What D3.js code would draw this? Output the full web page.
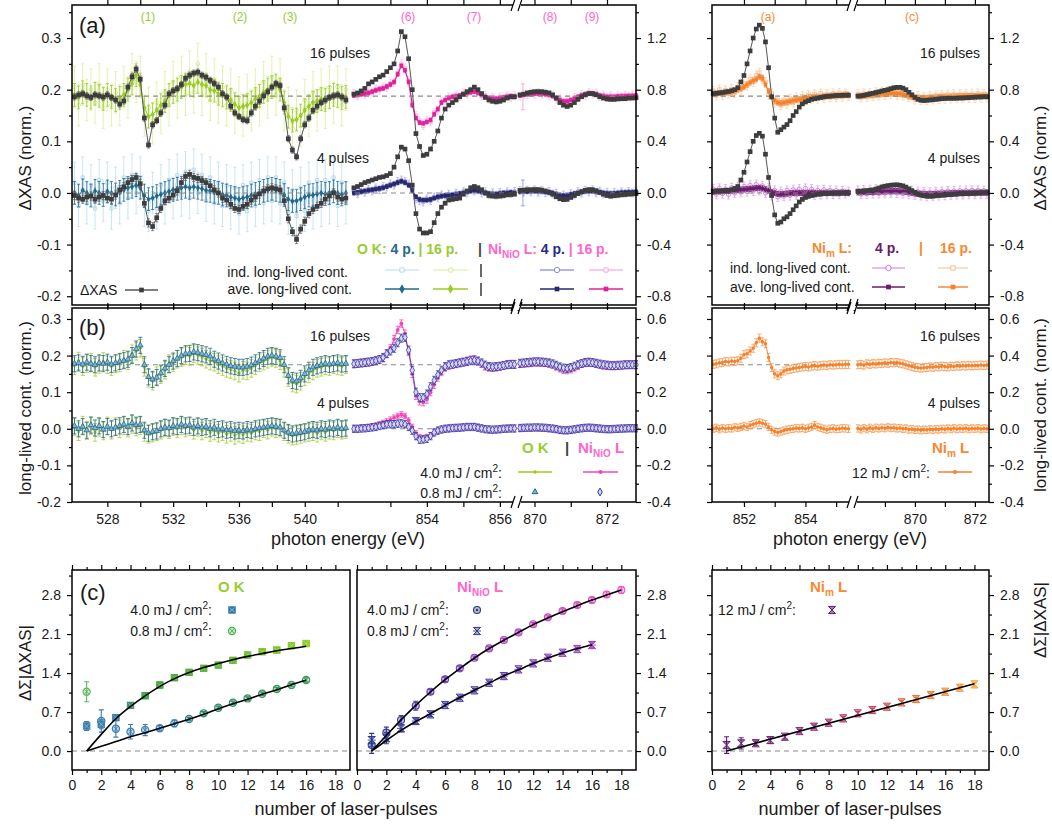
<!DOCTYPE html>
<html><head><meta charset="utf-8">
<script src="https://cdn.jsdelivr.net/npm/d3@7"></script>
<style>body{margin:0;background:#fff}</style>
</head><body>
<svg id="c" width="1052" height="824"></svg>
<script>
// ======================= DATA =======================
// --- O K edge (panels a, b), photon energy (eV)
const E_OK = [526,526.25,526.5,526.75,527,527.25,527.5,527.75,528,528.25,528.5,528.75,529,529.25,529.5,529.75,530,530.25,530.5,530.75,531,531.25,531.5,531.75,532,532.25,532.5,532.75,533,533.25,533.5,533.75,534,534.25,534.5,534.75,535,535.25,535.5,535.75,536,536.25,536.5,536.75,537,537.25,537.5,537.75,538,538.25,538.5,538.75,539,539.25,539.5,539.75,540,540.25,540.5,540.75,541,541.25,541.5,541.75,542,542.25,542.5];
const okXas16 = [0.186,0.19,0.192,0.188,0.185,0.19,0.188,0.186,0.19,0.185,0.18,0.172,0.178,0.205,0.225,0.24,0.22,0.145,0.093,0.132,0.14,0.155,0.17,0.192,0.198,0.202,0.21,0.222,0.228,0.232,0.234,0.228,0.224,0.218,0.212,0.205,0.192,0.186,0.168,0.155,0.148,0.142,0.14,0.155,0.168,0.178,0.188,0.196,0.205,0.212,0.208,0.165,0.105,0.083,0.07,0.105,0.132,0.145,0.16,0.168,0.175,0.18,0.185,0.188,0.19,0.186,0.18];
const okXas4 = [-0.005,-0.01,-0.012,-0.008,-0.006,-0.012,-0.008,-0.005,-0.01,-0.012,-0.004,0.006,0.012,0.02,0.026,0.03,0.018,-0.02,-0.058,-0.065,-0.048,-0.03,-0.015,-0.01,-0.004,0.004,0.02,0.032,0.036,0.03,0.028,0.024,0.02,0.014,0.006,0.0,-0.01,-0.014,-0.022,-0.03,-0.032,-0.026,-0.022,-0.014,-0.008,-0.002,0.004,0.008,0.01,0.008,0.006,-0.015,-0.05,-0.075,-0.09,-0.07,-0.055,-0.04,-0.032,-0.026,-0.02,-0.012,-0.006,0.0,-0.008,-0.012,-0.01];
const okAve16 = [0.19,0.185,0.195,0.19,0.185,0.192,0.188,0.182,0.19,0.186,0.18,0.184,0.19,0.2,0.212,0.228,0.21,0.165,0.148,0.152,0.16,0.17,0.178,0.19,0.195,0.2,0.205,0.21,0.212,0.208,0.215,0.21,0.208,0.2,0.198,0.192,0.19,0.185,0.18,0.172,0.165,0.168,0.17,0.175,0.182,0.188,0.195,0.2,0.205,0.208,0.2,0.175,0.148,0.14,0.142,0.15,0.16,0.168,0.175,0.178,0.182,0.18,0.185,0.19,0.188,0.184,0.186];
const okInd16 = [0.205,0.17,0.21,0.18,0.2,0.175,0.21,0.165,0.2,0.17,0.195,0.17,0.205,0.185,0.23,0.215,0.225,0.15,0.165,0.135,0.175,0.155,0.195,0.17,0.215,0.185,0.225,0.19,0.235,0.195,0.25,0.19,0.23,0.18,0.22,0.175,0.205,0.17,0.2,0.155,0.185,0.15,0.19,0.16,0.2,0.17,0.215,0.185,0.225,0.19,0.22,0.16,0.165,0.125,0.16,0.13,0.18,0.15,0.195,0.16,0.2,0.165,0.205,0.175,0.205,0.17,0.2];
const okAve4 = [0.0,-0.005,0.005,0.0,-0.005,0.004,0.0,-0.004,0.003,0.0,-0.003,0.002,0.006,0.01,0.012,0.015,0.01,-0.005,-0.012,-0.01,-0.006,-0.003,0.0,0.003,0.006,0.008,0.01,0.012,0.01,0.012,0.01,0.008,0.005,0.004,0.002,0.0,-0.003,-0.005,-0.008,-0.01,-0.012,-0.01,-0.008,-0.005,-0.002,0.0,0.004,0.006,0.008,0.006,0.004,-0.004,-0.012,-0.016,-0.015,-0.012,-0.008,-0.005,-0.004,-0.002,0.0,-0.002,0.0,0.003,0.0,-0.003,0.0];
const okInd4 = [0.02,-0.025,0.03,-0.02,0.015,-0.03,0.025,-0.015,0.02,-0.03,0.01,-0.02,0.03,-0.01,0.035,0.0,0.03,-0.025,-0.035,0.0,-0.03,0.015,-0.02,0.025,-0.01,0.035,-0.005,0.04,-0.01,0.045,0.0,0.035,-0.015,0.03,-0.02,0.02,-0.025,0.015,-0.03,0.01,-0.04,0.015,-0.035,0.02,-0.025,0.025,-0.02,0.03,-0.015,0.03,-0.02,0.02,-0.04,0.005,-0.045,0.01,-0.035,0.02,-0.03,0.025,-0.025,0.025,-0.02,0.03,-0.025,0.02,-0.02];
// panel b, O K long-lived contribution
const okLL16hi = [0.172,0.185,0.17,0.178,0.182,0.168,0.176,0.184,0.175,0.17,0.178,0.18,0.19,0.186,0.205,0.212,0.22,0.168,0.138,0.13,0.145,0.148,0.16,0.178,0.18,0.19,0.195,0.2,0.198,0.205,0.2,0.196,0.19,0.185,0.182,0.175,0.17,0.165,0.162,0.158,0.152,0.16,0.158,0.165,0.172,0.18,0.185,0.19,0.195,0.192,0.186,0.165,0.14,0.125,0.122,0.13,0.142,0.15,0.158,0.165,0.168,0.172,0.17,0.175,0.172,0.17,0.175];
const okLL16lo = [0.178,0.18,0.176,0.182,0.178,0.175,0.18,0.178,0.182,0.176,0.18,0.184,0.186,0.19,0.2,0.218,0.228,0.175,0.142,0.135,0.14,0.152,0.165,0.175,0.185,0.192,0.2,0.205,0.206,0.21,0.208,0.205,0.202,0.198,0.19,0.185,0.18,0.176,0.172,0.17,0.168,0.168,0.17,0.174,0.18,0.186,0.192,0.198,0.2,0.198,0.194,0.175,0.145,0.132,0.13,0.138,0.15,0.16,0.168,0.172,0.175,0.178,0.176,0.178,0.18,0.177,0.178];
const okLL4hi = [0.005,-0.008,0.01,-0.005,0.008,-0.01,0.004,-0.006,0.008,-0.004,0.006,0.0,0.008,0.002,0.012,0.005,0.008,-0.01,-0.015,-0.012,-0.008,-0.004,0.002,-0.002,0.006,0.0,0.008,0.002,0.006,-0.004,0.004,-0.006,0.0,-0.01,-0.006,-0.012,-0.008,-0.015,-0.01,-0.018,-0.012,-0.016,-0.01,-0.012,-0.006,-0.008,0.0,-0.004,0.004,0.0,0.002,-0.008,-0.015,-0.02,-0.018,-0.015,-0.012,-0.01,-0.008,-0.012,-0.006,-0.01,-0.004,-0.006,0.0,-0.004,-0.002];
const okLL4lo = [0.008,0.0,0.006,-0.004,0.01,0.002,0.008,-0.002,0.006,0.0,0.004,0.008,0.012,0.006,0.016,0.01,0.012,-0.004,-0.012,-0.008,-0.006,0.0,0.004,0.002,0.008,0.006,0.012,0.008,0.01,0.004,0.008,0.004,0.006,0.0,0.004,-0.002,0.0,-0.004,-0.002,-0.006,-0.004,-0.006,-0.002,-0.004,0.0,0.002,0.004,0.006,0.008,0.006,0.004,-0.004,-0.01,-0.014,-0.012,-0.01,-0.008,-0.004,-0.002,-0.004,0.0,-0.002,0.002,0.0,0.004,0.0,0.002];

// --- Ni(NiO) L3 / L2
const E_N3 = [852.0,852.1,852.2,852.3,852.4,852.5,852.6,852.7,852.8,852.9,853.0,853.1,853.2,853.3,853.4,853.5,853.6,853.7,853.8,853.9,854.0,854.1,854.2,854.3,854.4,854.5,854.6,854.7,854.8,854.9,855.0,855.1,855.2,855.3,855.4,855.5,855.6,855.7,855.8,855.9,856.0,856.1,856.2,856.3,856.4];
const niXas16 = [0.765,0.775,0.79,0.81,0.845,0.86,0.88,0.9,0.913,0.94,0.97,1.0,1.1,1.25,1.21,1.04,0.8,0.46,0.36,0.29,0.3,0.34,0.4,0.48,0.58,0.65,0.68,0.7,0.72,0.745,0.765,0.785,0.8,0.82,0.8,0.77,0.74,0.72,0.71,0.705,0.71,0.72,0.735,0.745,0.745];
const niXas4 = [0.04,0.05,0.065,0.08,0.09,0.1,0.11,0.12,0.125,0.135,0.15,0.2,0.28,0.355,0.34,0.25,0.06,-0.16,-0.28,-0.31,-0.31,-0.3,-0.23,-0.16,-0.11,-0.08,-0.055,-0.05,-0.045,-0.04,-0.01,0.015,0.04,0.05,0.04,0.025,0.0,-0.02,-0.025,-0.026,-0.025,-0.02,-0.015,-0.012,-0.01];
const niAve16 = [0.755,0.76,0.765,0.77,0.775,0.785,0.795,0.805,0.81,0.825,0.84,0.86,0.92,0.985,0.95,0.86,0.68,0.58,0.545,0.54,0.55,0.565,0.61,0.65,0.7,0.72,0.735,0.745,0.75,0.755,0.765,0.775,0.78,0.785,0.775,0.76,0.745,0.735,0.73,0.73,0.735,0.74,0.745,0.75,0.745];
const niInd16 = [0.77,0.75,0.775,0.76,0.785,0.775,0.805,0.795,0.82,0.815,0.85,0.855,0.93,1.0,0.97,0.87,0.7,0.6,0.56,0.52,0.565,0.55,0.625,0.64,0.71,0.715,0.745,0.735,0.76,0.745,0.775,0.765,0.79,0.78,0.785,0.75,0.755,0.725,0.74,0.72,0.745,0.735,0.755,0.74,0.755];
const niAve4 = [0.0,0.005,0.01,0.015,0.02,0.025,0.03,0.035,0.04,0.05,0.06,0.07,0.08,0.09,0.08,0.06,0.02,-0.03,-0.05,-0.055,-0.055,-0.05,-0.04,-0.03,-0.025,-0.02,-0.018,-0.015,-0.01,-0.005,0.0,0.01,0.015,0.02,0.015,0.01,0.0,-0.005,-0.008,-0.008,-0.005,0.0,0.0,0.005,0.0];
const niInd4 = [0.012,-0.008,0.02,0.005,0.03,0.015,0.04,0.025,0.05,0.045,0.07,0.06,0.09,0.1,0.09,0.07,0.03,-0.045,-0.06,-0.07,-0.045,-0.06,-0.03,-0.04,-0.015,-0.03,-0.008,-0.025,0.0,-0.015,0.01,0.0,0.025,0.015,0.025,0.0,0.01,-0.015,0.002,-0.018,0.005,-0.01,0.01,-0.005,0.012];
const E_N2 = [869.6,869.7,869.8,869.9,870.0,870.1,870.2,870.3,870.4,870.5,870.6,870.7,870.8,870.9,871.0,871.1,871.2,871.3,871.4,871.5,871.6,871.7,871.8,871.9,872.0,872.1,872.2,872.3,872.4,872.5,872.6,872.7,872.8];
const niXas16L2 = [0.76,0.765,0.775,0.78,0.785,0.785,0.785,0.78,0.775,0.76,0.735,0.7,0.68,0.67,0.68,0.7,0.725,0.745,0.76,0.77,0.77,0.76,0.745,0.735,0.728,0.725,0.725,0.728,0.73,0.73,0.735,0.735,0.738];
const niXas4L2 = [0.02,0.022,0.025,0.025,0.026,0.026,0.022,0.015,0.005,-0.01,-0.03,-0.045,-0.052,-0.05,-0.035,-0.02,-0.005,0.01,0.02,0.026,0.025,0.018,0.005,-0.01,-0.02,-0.025,-0.022,-0.018,-0.015,-0.012,-0.01,-0.008,-0.005];
const niAve16L2 = [0.755,0.76,0.765,0.765,0.77,0.77,0.77,0.765,0.76,0.75,0.735,0.72,0.71,0.71,0.72,0.73,0.745,0.755,0.765,0.77,0.77,0.765,0.755,0.75,0.745,0.745,0.745,0.748,0.75,0.75,0.752,0.752,0.755];
const niInd16L2 = [0.75,0.765,0.76,0.775,0.765,0.78,0.765,0.775,0.755,0.76,0.725,0.73,0.7,0.72,0.71,0.74,0.735,0.765,0.755,0.78,0.765,0.775,0.745,0.76,0.74,0.755,0.738,0.755,0.745,0.758,0.748,0.76,0.75];
const niAve4L2 = [0.01,0.012,0.012,0.014,0.015,0.014,0.012,0.01,0.005,0.0,-0.01,-0.018,-0.022,-0.02,-0.012,-0.005,0.0,0.008,0.012,0.015,0.014,0.01,0.004,0.0,-0.004,-0.005,-0.004,0.0,0.002,0.004,0.005,0.006,0.008];
const niInd4L2 = [0.02,0.005,0.022,0.008,0.025,0.005,0.02,0.002,0.012,-0.008,-0.002,-0.025,-0.015,-0.03,-0.005,-0.015,0.01,0.0,0.022,0.008,0.025,0.0,0.015,-0.008,0.005,-0.012,0.004,-0.008,0.01,-0.002,0.012,0.0,0.015];
const niEdgeE = [869.68], niEdge16 = [0.745], niEdge4 = [0.0];
// panel b, NiO long-lived
const niLL16hi = [0.355,0.356,0.358,0.36,0.362,0.366,0.372,0.378,0.385,0.41,0.44,0.49,0.54,0.575,0.52,0.42,0.3,0.18,0.15,0.145,0.16,0.2,0.24,0.28,0.31,0.335,0.345,0.35,0.355,0.36,0.365,0.372,0.378,0.38,0.37,0.355,0.34,0.335,0.333,0.335,0.34,0.345,0.35,0.352,0.352];
const niLL16lo = [0.355,0.357,0.36,0.362,0.365,0.368,0.372,0.378,0.39,0.41,0.425,0.44,0.47,0.495,0.5,0.43,0.32,0.2,0.17,0.17,0.19,0.23,0.265,0.295,0.32,0.34,0.35,0.353,0.356,0.36,0.364,0.368,0.372,0.375,0.37,0.36,0.348,0.34,0.338,0.34,0.342,0.346,0.35,0.352,0.352];
const niLL4hi = [0.0,0.002,0.004,0.006,0.008,0.012,0.018,0.025,0.032,0.04,0.05,0.06,0.07,0.078,0.07,0.045,0.01,-0.025,-0.045,-0.05,-0.045,-0.035,-0.02,-0.01,-0.004,0.0,0.002,0.004,0.005,0.006,0.008,0.01,0.012,0.012,0.008,0.003,-0.002,-0.005,-0.006,-0.005,-0.003,0.0,0.002,0.003,0.003];
const niLL4lo = [0.0,0.0,0.002,0.003,0.005,0.008,0.01,0.015,0.02,0.025,0.025,0.025,0.028,0.03,0.025,0.01,-0.01,-0.04,-0.06,-0.058,-0.055,-0.04,-0.02,-0.01,-0.004,0.0,0.002,0.004,0.005,0.006,0.008,0.01,0.01,0.01,0.006,0.002,-0.002,-0.004,-0.005,-0.004,-0.002,0.0,0.001,0.002,0.002];
const niLL16hiL2 = [0.355,0.356,0.358,0.36,0.362,0.362,0.362,0.36,0.356,0.35,0.34,0.33,0.322,0.32,0.325,0.335,0.345,0.355,0.36,0.362,0.36,0.355,0.35,0.346,0.344,0.342,0.342,0.344,0.346,0.348,0.35,0.35,0.35];
const niLL16loL2 = [0.358,0.36,0.362,0.364,0.366,0.366,0.365,0.363,0.36,0.355,0.347,0.338,0.332,0.33,0.334,0.342,0.35,0.357,0.362,0.364,0.362,0.358,0.354,0.35,0.348,0.346,0.346,0.347,0.348,0.35,0.35,0.35,0.35];
const niLL4hiL2 = [0.003,0.004,0.005,0.005,0.006,0.006,0.005,0.004,0.002,0.0,-0.004,-0.008,-0.01,-0.01,-0.008,-0.004,0.0,0.003,0.005,0.006,0.005,0.003,0.0,-0.002,-0.003,-0.003,-0.002,-0.001,0.0,0.001,0.002,0.002,0.002];
const niLL4loL2 = [0.004,0.005,0.006,0.006,0.007,0.007,0.006,0.005,0.003,0.001,-0.002,-0.006,-0.008,-0.008,-0.006,-0.003,0.0,0.003,0.005,0.006,0.005,0.003,0.001,-0.001,-0.002,-0.002,-0.001,0.0,0.001,0.002,0.003,0.003,0.003];

// --- Ni(metal) L3 / L2
const E_M3 = [851.0,851.1,851.2,851.3,851.4,851.5,851.6,851.7,851.8,851.9,852.0,852.1,852.2,852.3,852.4,852.5,852.6,852.7,852.8,852.9,853.0,853.1,853.2,853.3,853.4,853.5,853.6,853.7,853.8,853.9,854.0,854.1,854.2,854.3,854.4,854.5,854.6,854.7,854.8,854.9,855.0,855.1,855.2,855.3,855.4];
const mXas16 = [0.77,0.772,0.775,0.778,0.782,0.786,0.792,0.8,0.815,0.86,0.91,1.0,1.1,1.2,1.27,1.3,1.275,1.17,0.97,0.745,0.58,0.47,0.49,0.51,0.53,0.56,0.6,0.63,0.665,0.69,0.705,0.715,0.725,0.73,0.735,0.74,0.745,0.748,0.75,0.752,0.755,0.755,0.756,0.757,0.757];
const mXas4 = [0.012,0.013,0.015,0.015,0.018,0.02,0.025,0.035,0.05,0.1,0.16,0.24,0.32,0.4,0.445,0.462,0.44,0.3,0.12,-0.02,-0.17,-0.235,-0.225,-0.2,-0.185,-0.16,-0.13,-0.1,-0.07,-0.05,-0.035,-0.026,-0.02,-0.015,-0.01,-0.008,-0.005,-0.004,-0.003,-0.002,0.0,0.0,0.0,0.002,0.002];
const mAve16 = [0.77,0.77,0.775,0.775,0.78,0.78,0.785,0.79,0.8,0.81,0.82,0.84,0.855,0.87,0.88,0.9,0.89,0.84,0.79,0.745,0.715,0.7,0.695,0.7,0.705,0.71,0.715,0.72,0.725,0.73,0.735,0.74,0.74,0.745,0.745,0.745,0.748,0.75,0.752,0.755,0.755,0.755,0.758,0.76,0.758];
const mInd16 = [0.79,0.755,0.8,0.76,0.795,0.77,0.805,0.775,0.82,0.8,0.845,0.83,0.88,0.86,0.91,0.93,0.88,0.86,0.76,0.77,0.7,0.72,0.68,0.72,0.69,0.73,0.7,0.74,0.71,0.75,0.72,0.76,0.73,0.765,0.73,0.77,0.735,0.765,0.74,0.77,0.74,0.775,0.745,0.77,0.75];
const mAve4 = [0.01,0.012,0.012,0.014,0.015,0.016,0.018,0.02,0.022,0.025,0.028,0.03,0.032,0.035,0.038,0.04,0.035,0.028,0.018,0.008,0.0,-0.008,-0.01,-0.008,-0.005,-0.002,0.0,0.002,0.0,0.0,-0.002,0.0,0.002,0.0,-0.002,0.0,0.0,0.002,0.0,0.0,-0.002,0.0,0.002,0.0,0.0];
const mInd4 = [0.03,-0.01,0.035,-0.005,0.03,-0.012,0.04,0.0,0.045,0.005,0.05,0.01,0.06,0.015,0.065,0.02,0.055,0.0,0.04,-0.02,0.02,-0.03,0.01,-0.025,0.02,-0.02,0.025,-0.015,0.03,-0.01,0.035,-0.01,0.03,-0.015,0.02,-0.012,0.025,-0.01,0.02,-0.008,0.018,-0.01,0.015,-0.005,0.01];
const E_M2 = [868.1,868.2,868.3,868.4,868.5,868.6,868.7,868.8,868.9,869.0,869.1,869.2,869.3,869.4,869.5,869.6,869.7,869.8,869.9,870.0,870.1,870.2,870.3,870.4,870.5,870.6,870.7,870.8,870.9,871.0,871.1,871.2,871.3,871.4,871.5,871.6,871.7,871.8,871.9,872.0,872.1,872.2,872.3,872.4];
const mXas16L2 = [0.75,0.752,0.756,0.762,0.768,0.772,0.778,0.784,0.79,0.795,0.8,0.808,0.815,0.818,0.818,0.812,0.8,0.78,0.76,0.74,0.725,0.718,0.716,0.718,0.72,0.722,0.725,0.728,0.73,0.732,0.733,0.733,0.733,0.734,0.735,0.736,0.737,0.738,0.74,0.742,0.743,0.744,0.745,0.745];
const mXas4L2 = [0.012,0.014,0.016,0.018,0.02,0.024,0.03,0.038,0.046,0.052,0.057,0.06,0.062,0.063,0.06,0.055,0.045,0.032,0.018,0.005,-0.008,-0.016,-0.022,-0.025,-0.026,-0.025,-0.022,-0.02,-0.018,-0.016,-0.014,-0.012,-0.01,-0.008,-0.006,-0.005,-0.004,-0.003,-0.002,0.0,0.0,0.002,0.003,0.003];
const mAve16L2 = [0.75,0.752,0.754,0.756,0.758,0.76,0.762,0.764,0.766,0.768,0.77,0.772,0.772,0.77,0.768,0.765,0.76,0.752,0.745,0.74,0.735,0.732,0.732,0.734,0.736,0.738,0.74,0.742,0.744,0.745,0.745,0.746,0.747,0.748,0.748,0.749,0.75,0.75,0.75,0.751,0.752,0.752,0.753,0.753];
const mInd16L2 = [0.765,0.74,0.77,0.745,0.775,0.75,0.78,0.755,0.785,0.76,0.79,0.765,0.79,0.76,0.785,0.755,0.775,0.74,0.76,0.725,0.75,0.72,0.745,0.72,0.75,0.725,0.755,0.728,0.76,0.73,0.762,0.732,0.765,0.735,0.765,0.735,0.768,0.735,0.768,0.735,0.77,0.738,0.768,0.74];
const mAve4L2 = [0.005,0.006,0.006,0.007,0.008,0.008,0.01,0.01,0.012,0.012,0.013,0.014,0.014,0.014,0.013,0.012,0.01,0.006,0.002,-0.002,-0.006,-0.008,-0.01,-0.01,-0.01,-0.009,-0.008,-0.007,-0.006,-0.005,-0.004,-0.003,-0.002,-0.002,-0.001,0.0,0.0,0.0,0.001,0.001,0.002,0.002,0.002,0.003];
const mInd4L2 = [0.02,-0.01,0.022,-0.008,0.025,-0.005,0.028,-0.005,0.03,-0.002,0.032,0.0,0.035,0.0,0.03,-0.005,0.025,-0.01,0.018,-0.015,0.01,-0.02,0.008,-0.025,0.005,-0.022,0.01,-0.02,0.012,-0.018,0.015,-0.015,0.015,-0.012,0.018,-0.012,0.018,-0.01,0.02,-0.01,0.02,-0.008,0.018,-0.008];
// panel b, Ni metal long-lived (12 mJ/cm2)
const mLL16 = [0.352,0.355,0.36,0.362,0.368,0.365,0.37,0.368,0.372,0.385,0.405,0.41,0.425,0.44,0.47,0.495,0.475,0.465,0.39,0.335,0.3,0.29,0.3,0.315,0.322,0.325,0.33,0.332,0.335,0.338,0.34,0.338,0.342,0.345,0.342,0.345,0.348,0.345,0.35,0.348,0.35,0.352,0.35,0.352,0.352];
const mLL4 = [0.0,0.005,-0.002,0.004,0.0,0.003,0.002,0.008,0.005,0.01,0.015,0.01,0.02,0.025,0.03,0.035,0.03,0.025,0.01,-0.005,-0.015,-0.02,-0.015,-0.01,-0.005,-0.002,0.0,0.004,0.002,0.005,0.0,0.005,0.01,0.02,0.01,0.005,0.0,-0.005,0.0,0.002,-0.002,0.0,0.003,0.002,0.0];
const mLL16L2 = [0.35,0.352,0.348,0.355,0.352,0.356,0.354,0.358,0.356,0.36,0.358,0.362,0.36,0.362,0.358,0.355,0.35,0.345,0.34,0.336,0.334,0.332,0.334,0.335,0.338,0.336,0.34,0.338,0.342,0.34,0.338,0.342,0.34,0.344,0.342,0.345,0.343,0.346,0.344,0.346,0.345,0.348,0.346,0.348];
const mLL4L2 = [0.002,-0.003,0.004,-0.002,0.005,0.0,0.006,0.002,0.006,0.003,0.008,0.004,0.006,0.002,0.004,0.0,0.002,-0.004,-0.002,-0.006,-0.004,-0.008,-0.005,-0.006,-0.003,-0.005,-0.002,-0.004,0.0,-0.003,0.002,-0.002,0.003,-0.001,0.002,0.0,0.003,-0.002,0.002,0.0,0.003,-0.001,0.002,0.0];

// --- panel c: ΔΣ|ΔXAS| vs number of laser pulses
const nOK = [1,2,3,4,5,6,7,8,9,10,11,12,13,14,15,16];
const okSumHi = [0.45,0.48,0.6,0.82,0.993,1.185,1.317,1.413,1.485,1.544,1.628,1.724,1.783,1.813,1.89,1.93];
const okSumHiErr = [0.08,0.08,0.05,0.04,0.05,0.05,0.03,0.03,0.03,0.03,0.03,0.03,0.03,0.03,0.05,0.04];
const okSumLo = [1.065,0.54,0.4,0.347,0.377,0.41,0.497,0.575,0.677,0.778,0.868,0.945,1.03,1.113,1.185,1.275];
const okSumLoErr = [0.18,0.2,0.15,0.13,0.1,0.05,0.06,0.03,0.03,0.03,0.03,0.03,0.03,0.03,0.03,0.04];
const okFitHi = [0,0.3,0.58,0.8,0.99,1.16,1.3,1.41,1.5,1.57,1.64,1.7,1.75,1.8,1.84,1.88];
const okFitLo = [0,0.085,0.17,0.255,0.33,0.41,0.49,0.57,0.66,0.76,0.85,0.93,1.02,1.1,1.19,1.27];
const nNiHi = [1,2,3,4,5,6,7,8,9,10,11,12,13,14,15,16,17,18];
const niSumHi = [0.108,0.33,0.557,0.813,1.065,1.287,1.485,1.675,1.843,1.993,2.13,2.275,2.4,2.513,2.62,2.71,2.81,2.89];
const niSumHiErr = [0.15,0.1,0.08,0.08,0.04,0.04,0.04,0.03,0.03,0.03,0.03,0.03,0.03,0.04,0.04,0.05,0.05,0.06];
const niFitHi = [0,0.28,0.56,0.82,1.06,1.28,1.48,1.67,1.84,1.99,2.13,2.27,2.39,2.5,2.61,2.71,2.8,2.89];
const nNiLo = [1,2,3,4,5,6,7,8,9,10,11,12,13,14,15,16];
const niSumLo = [0.197,0.23,0.407,0.539,0.659,0.826,0.957,1.09,1.226,1.346,1.466,1.574,1.675,1.765,1.831,1.903];
const niSumLoErr = [0.12,0.1,0.06,0.04,0.04,0.03,0.03,0.03,0.03,0.03,0.03,0.03,0.03,0.03,0.03,0.04];
const niFitLo = [0,0.19,0.37,0.53,0.67,0.82,0.96,1.09,1.22,1.35,1.46,1.57,1.67,1.76,1.84,1.91];
const nM = [1,2,3,4,5,6,7,8,9,10,11,12,13,14,15,16,17,18];
const mSum = [0.108,0.138,0.14,0.197,0.257,0.359,0.437,0.509,0.587,0.677,0.736,0.796,0.874,0.934,1.005,1.065,1.137,1.197];
const mSumErr = [0.15,0.1,0.04,0.06,0.04,0.03,0.03,0.03,0.03,0.03,0.03,0.03,0.03,0.03,0.03,0.03,0.03,0.03];
const nMFit = [1,18], mFit = [0,1.21];

// tick values
const tkAL = [-0.2,-0.1,0,0.1,0.2,0.3], tkALm = [-0.15,-0.05,0.05,0.15,0.25,0.35];
const tkAR = [-0.8,-0.4,0,0.4,0.8,1.2], tkARm = [-0.6,-0.2,0.2,0.6,1.0,1.4];
const tkBL = [-0.2,-0.1,0,0.1,0.2,0.3], tkBLm = [-0.15,-0.05,0.05,0.15,0.25];
const tkBR = [-0.4,-0.2,0,0.2,0.4,0.6], tkBRm = [-0.3,-0.1,0.1,0.3,0.5];
const tkOK = [528,530,532,534,536,538,540,542], lbOK = [528,532,536,540];
const tkN3 = [853,854,855,856], lbN3 = [854,856];
const tkN2 = [870,871,872], lbN2 = [870,872];
const tkM3 = [852,853,854,855], lbM3 = [852,854];
const tkM2 = [869,870,871,872], lbM2 = [870,872];
const tkCY = [0,0.7,1.4,2.1,2.8], tkCYm = [0.35,1.05,1.75,2.45,3.15];
const tkCX = [0,2,4,6,8,10,12,14,16,18], tkCXm = [1,3,5,7,9,11,13,15,17];

// ======================= DRAWING =======================
const F = "'Liberation Sans', Arial, Helvetica, sans-serif";
const svg = d3.select('#c').attr('font-family', F);
svg.append('rect').attr('width',1052).attr('height',824).attr('fill','#fff');

const xOK = d3.scaleLinear().domain([525.85, 542.75]).range([72, 350]);
const xN3 = d3.scaleLinear().domain([852.03, 856.36]).range([355, 513]);
const xN2 = d3.scaleLinear().domain([869.6, 872.8]).range([520, 636]);
const xM3 = d3.scaleLinear().domain([850.96, 855.45]).range([712, 850]);
const xM2 = d3.scaleLinear().domain([868.07, 872.47]).range([857, 989]);
const yAL = d3.scaleLinear().domain([-0.217, 0.364]).range([305, 5]);
const yAR = d3.scaleLinear().domain([-0.868, 1.456]).range([305, 5]);
const yBL = d3.scaleLinear().domain([-0.2, 0.33]).range([502, 308]);
const yBR = d3.scaleLinear().domain([-0.4, 0.66]).range([502, 308]);
const xC1 = d3.scaleLinear().domain([0,19]).range([72,350]);
const xC2 = d3.scaleLinear().domain([0,19]).range([357,636]);
const xC3 = d3.scaleLinear().domain([0,19]).range([712,989]);
const yC = d3.scaleLinear().domain([-0.34, 3.25]).range([770, 570]);

const layer = svg.append('g');

function series(xs, ys, E, V, o) {
  const g = layer.append('g');
  if (o.err) {
    g.append('g').selectAll('path').data(E).join('path')
      .attr('d', (e,i) => { const x = xs(e), y1 = ys(V[i]-o.err), y2 = ys(V[i]+o.err), c = o.cap || 1.5;
        return `M${x},${y1}V${y2}M${x-c},${y1}H${x+c}M${x-c},${y2}H${x+c}`; })
      .attr('stroke', o.errColor || o.color).attr('stroke-width', o.errW || 0.8).attr('fill','none');
  }
  if (o.line) {
    g.append('path').attr('d', d3.line().x(d => xs(d[0])).y(d => ys(d[1]))(E.map((e,i) => [e, V[i]])))
      .attr('fill','none').attr('stroke', o.lineColor || o.color).attr('stroke-width', o.lw || 1);
  }
  if (o.sym) {
    g.append('g').selectAll('path').data(E).join('path')
      .attr('transform', (e,i) => `translate(${xs(e)},${ys(V[i])})`)
      .attr('d', d3.symbol(o.sym, o.size || 16))
      .attr('fill', o.fill || 'none').attr('stroke', o.stroke || 'none').attr('stroke-width', o.sw || 0.8);
  }
}
function dashed(x0, x1, y) {
  layer.append('line').attr('x1',x0).attr('x2',x1).attr('y1',y).attr('y2',y)
    .attr('stroke','#8a8a8a').attr('stroke-width',1.1).attr('stroke-dasharray','5,4');
}

const C = {
  gray:'#3d3d3d', grayLine:'#555',
  okG:'#99cc22', okGl:'#dcef9e', okT:'#226a8c', okTl:'#bddff2',
  pink:'#e0209c', pinkL:'#f7a9dc', navy:'#27276f', lav:'#8a8ae4',
  orange:'#f5822a', orangeL:'#f8bb8a', purple:'#6a1a6a', violet:'#d070e0',
  txtG:'#99cc33', txtP:'#ff66cc', txtO:'#f7892f'
};
const SQ = d3.symbolSquare, DI = d3.symbolDiamond, CI = d3.symbolCircle, TR = d3.symbolTriangle;

// ---------- Panel (a) O K ----------
series(xOK, yAL, E_OK, okInd4, {color:C.okTl, line:true, lw:0.8, err:0.04, sym:SQ, size:10, stroke:'#a8d4ee'});
series(xOK, yAL, E_OK, okInd16, {color:C.okGl, line:true, lw:0.8, err:0.04, sym:CI, size:10, stroke:'#cde88a'});
series(xOK, yAL, E_OK, okAve4, {color:C.okT, line:true, err:0.022, sym:DI, size:14, fill:C.okT});
series(xOK, yAL, E_OK, okAve16, {color:C.okG, line:true, err:0.022, sym:DI, size:14, fill:C.okG});
dashed(72, 350, yAL(0.1875)); dashed(72, 350, yAL(0));
series(xOK, yAL, E_OK, okXas16, {color:C.grayLine, line:true, err:0.006, errColor:'#666', sym:SQ, size:22, fill:C.gray});
series(xOK, yAL, E_OK, okXas4, {color:C.grayLine, line:true, err:0.008, errColor:'#666', sym:SQ, size:22, fill:C.gray});

// ---------- Panel (a) NiO ----------
[[xN3,E_N3,niInd4,niInd16,niAve4,niAve16,niXas4,niXas16],[xN2,E_N2,niInd4L2,niInd16L2,niAve4L2,niAve16L2,niXas4L2,niXas16L2]].forEach(s => {
  const [xs,E,i4,i16,a4,a16,g4,g16] = s;
  series(xs, yAR, E, i4, {color:'#b4b4f0', line:true, lw:0.8, err:0.03, sym:CI, size:12, stroke:C.lav});
  series(xs, yAR, E, i16, {color:'#fbc4e8', line:true, lw:0.8, err:0.03, sym:SQ, size:12, stroke:C.pinkL});
  series(xs, yAR, E, a4, {color:C.navy, line:true, lw:1.2, err:0.015, sym:SQ, size:14, fill:C.navy});
  series(xs, yAR, E, a16, {color:C.pink, line:true, lw:1.2, err:0.015, sym:SQ, size:14, fill:C.pink});
});
series(xN2, yAR, niEdgeE, niEdge16, {color:'#f59ad6', err:0.1, cap:2});
series(xN2, yAR, niEdgeE, niEdge4, {color:'#8a8ae4', err:0.1, cap:2});
dashed(355, 513, yAR(0.75)); dashed(520, 636, yAR(0.75)); dashed(355, 513, yAR(0)); dashed(520, 636, yAR(0));
[[xN3,E_N3,niXas4,niXas16],[xN2,E_N2,niXas4L2,niXas16L2]].forEach(s => {
  series(s[0], yAR, s[1], s[2], {color:C.grayLine, line:true, sym:SQ, size:22, fill:C.gray});
  series(s[0], yAR, s[1], s[3], {color:C.grayLine, line:true, sym:SQ, size:22, fill:C.gray});
});

// ---------- Panel (a) Ni metal ----------
[[xM3,E_M3,mInd4,mInd16,mAve4,mAve16],[xM2,E_M2,mInd4L2,mInd16L2,mAve4L2,mAve16L2]].forEach(s => {
  const [xs,E,i4,i16,a4,a16] = s;
  series(xs, yAR, E, i4, {color:'#e2a4ec', line:true, lw:0.8, err:0.035, sym:CI, size:14, stroke:C.violet});
  series(xs, yAR, E, i16, {color:'#fbd0ac', line:true, lw:0.8, err:0.035, sym:SQ, size:14, stroke:C.orangeL});
  series(xs, yAR, E, a4, {color:C.purple, line:true, lw:1.2, err:0.02, sym:SQ, size:12, fill:C.purple});
  series(xs, yAR, E, a16, {color:C.orange, line:true, lw:1.2, err:0.02, sym:SQ, size:12, fill:C.orange});
});
dashed(712, 850, yAR(0.75)); dashed(857, 989, yAR(0.75)); dashed(712, 850, yAR(0)); dashed(857, 989, yAR(0));
[[xM3,E_M3,mXas4,mXas16],[xM2,E_M2,mXas4L2,mXas16L2]].forEach(s => {
  series(s[0], yAR, s[1], s[2], {color:C.grayLine, line:true, sym:SQ, size:22, fill:C.gray});
  series(s[0], yAR, s[1], s[3], {color:C.grayLine, line:true, sym:SQ, size:22, fill:C.gray});
});

// ---------- Panel (b) ----------
dashed(72, 350, yBL(0.175)); dashed(72, 350, yBL(0));
[okLL16hi, okLL4hi].forEach(v => series(xOK, yBL, E_OK, v, {color:'#a6cc2a', line:true, lw:0.8, err:0.024, cap:2, sym:CI, size:7, fill:'#99cc22'}));
[okLL16lo, okLL4lo].forEach(v => series(xOK, yBL, E_OK, v, {color:'#24668c', line:false, err:0.022, cap:2, errColor:'#24668c', sym:TR, size:14, stroke:'#24668c', fill:'#7fb6d4'}));
dashed(355, 513, yBR(0.35)); dashed(520, 636, yBR(0.35)); dashed(355, 513, yBR(0)); dashed(520, 636, yBR(0));
[[xN3,E_N3,niLL16hi,niLL16lo,niLL4hi,niLL4lo],[xN2,E_N2,niLL16hiL2,niLL16loL2,niLL4hiL2,niLL4loL2]].forEach(s => {
  const [xs,E,h16,l16,h4,l4] = s;
  series(xs, yBR, E, h16, {color:'#f048b8', line:true, lw:1, err:0.02, cap:2, sym:CI, size:12, fill:'#f048b8'});
  series(xs, yBR, E, h4, {color:'#f048b8', line:true, lw:1, err:0.015, cap:2, sym:CI, size:12, fill:'#f048b8'});
  series(xs, yBR, E, l16, {color:'#3a3aa0', line:true, lw:0.8, err:0.022, cap:2, sym:DI, size:18, stroke:'#3a3aa8', fill:'#d4d4f4'});
  series(xs, yBR, E, l4, {color:'#3a3aa0', line:true, lw:0.8, err:0.02, cap:2, sym:DI, size:18, stroke:'#3a3aa8', fill:'#d4d4f4'});
});
dashed(712, 850, yBR(0.35)); dashed(857, 989, yBR(0.35)); dashed(712, 850, yBR(0)); dashed(857, 989, yBR(0));
[[xM3,E_M3,mLL16,mLL4],[xM2,E_M2,mLL16L2,mLL4L2]].forEach(s => {
  series(s[0], yBR, s[1], s[2], {color:'#f58a3a', line:true, lw:1, err:0.022, cap:2, errColor:'#f59a55', sym:CI, size:10, fill:C.orange});
  series(s[0], yBR, s[1], s[3], {color:'#f58a3a', line:true, lw:1, err:0.02, cap:2, errColor:'#f59a55', sym:CI, size:10, fill:C.orange});
});

// ---------- Panel (c) ----------
function cMarker(g, x, y, type, col) {
  const s = 3.3;
  if (type === 'sq') {
    g.append('rect').attr('x',x-s).attr('y',y-s).attr('width',2*s).attr('height',2*s).attr('fill',col).attr('stroke',col).attr('stroke-width',0.8);
    g.append('path').attr('d',`M${x-s+1},${y-s+1}L${x+s-1},${y+s-1}M${x-s+1},${y+s-1}L${x+s-1},${y-s+1}`).attr('stroke','#fff').attr('stroke-opacity',0.45).attr('stroke-width',0.8);
  } else if (type === 'cx') {
    g.append('circle').attr('cx',x).attr('cy',y).attr('r',3.6).attr('fill',col).attr('fill-opacity',0.3).attr('stroke',col).attr('stroke-width',1.2);
    g.append('path').attr('d',`M${x-2.5},${y-2.5}L${x+2.5},${y+2.5}M${x-2.5},${y+2.5}L${x+2.5},${y-2.5}`).attr('stroke',col).attr('stroke-width',0.9);
  } else if (type === 'co') {
    g.append('circle').attr('cx',x).attr('cy',y).attr('r',3.5).attr('fill',col).attr('fill-opacity',0.35).attr('stroke',col).attr('stroke-width',1.1);
    g.append('circle').attr('cx',x).attr('cy',y).attr('r',1.2).attr('fill',col);
  } else if (type === 'bow') {
    g.append('path').attr('d',`M${x-3.6},${y-3.6}L${x+3.6},${y-3.6}L${x-3.6},${y+3.6}L${x+3.6},${y+3.6}Z`).attr('fill',col).attr('fill-opacity',0.55).attr('stroke',col).attr('stroke-width',1);
  } else if (type === 'star') {
    g.append('path').attr('d',`M${x-3.6},${y-3.6}L${x+3.6},${y-3.6}L${x-3.6},${y+3.6}L${x+3.6},${y+3.6}Z`).attr('fill',col).attr('fill-opacity',0.45).attr('stroke',col).attr('stroke-width',1);
    g.append('path').attr('d',`M${x-4},${y}H${x+4}`).attr('stroke',col).attr('stroke-width',0.9);
  }
}
function cSeries(xs, N, V, Er, type, colScale) {
  const g = layer.append('g');
  N.forEach((n,i) => {
    const x = xs(n), col = colScale(n);
    g.append('path').attr('d',`M${x},${yC(V[i]-Er[i])}V${yC(V[i]+Er[i])}M${x-2.5},${yC(V[i]-Er[i])}H${x+2.5}M${x-2.5},${yC(V[i]+Er[i])}H${x+2.5}`)
      .attr('stroke',col).attr('stroke-width',1.1).attr('fill','none');
    cMarker(g, x, yC(V[i]), type, col);
  });
}
function fitLine(xs, N, V) {
  layer.append('path').attr('d', d3.line().x((d,i)=>xs(N[i])).y(d=>yC(d)).curve(d3.curveMonotoneX)(V))
    .attr('fill','none').attr('stroke','#000').attr('stroke-width',1.6);
}
dashed(72, 350, yC(0)); dashed(357, 636, yC(0)); dashed(712, 989, yC(0));
const colOKhi = d3.scaleLinear().domain([1,3,5,16]).range(['#3a7db0','#3a80a8','#3aa040','#8ccc1e']).clamp(true);
const colOKlo = d3.scaleLinear().domain([1,1.5,2,7,9,16]).range(['#5cb85c','#3a7db0','#3a7db0','#3a80b0','#2a8a70','#3a9a5a']).clamp(true);
const colNiHi = d3.scaleLinear().domain([1,5,10,18]).range(['#2a3a8a','#5a3ab0','#b040c0','#f050c8']).clamp(true);
const colNiLo = d3.scaleLinear().domain([1,8,16]).range(['#2a3a8a','#4a3aaa','#a03ac0']).clamp(true);
const colM = d3.scaleLinear().domain([1,6,11,14,18]).range(['#5a1a7a','#8a2a7a','#c84060','#f07030','#f8a030']).clamp(true);
cSeries(xC1, nOK, okSumLo, okSumLoErr, 'cx', colOKlo);
cSeries(xC1, nOK, okSumHi, okSumHiErr, 'sq', colOKhi);
fitLine(xC1, nOK, okFitHi); fitLine(xC1, nOK, okFitLo);
cSeries(xC2, nNiLo, niSumLo, niSumLoErr, 'star', colNiLo);
cSeries(xC2, nNiHi, niSumHi, niSumHiErr, 'co', colNiHi);
fitLine(xC2, nNiHi, niFitHi); fitLine(xC2, nNiLo, niFitLo);
cSeries(xC3, nM, mSum, mSumErr, 'bow', colM);
fitLine(xC3, nMFit, mFit);

// ---------- Frames & axes ----------
const fr = svg.append('g');
function frame(x0, x1, y0, y1, breaks) {
  fr.append('rect').attr('x',x0).attr('y',y0).attr('width',x1-x0).attr('height',y1-y0).attr('fill','none').attr('stroke','#000').attr('stroke-width',1.5);
  (breaks||[]).forEach(bx => [y0,y1].forEach(y => {
    fr.append('rect').attr('x',bx-4).attr('y',y-2).attr('width',8).attr('height',4).attr('fill','#fff');
    fr.append('path').attr('d',`M${bx-6},${y+6}L${bx-2},${y-6}M${bx+1},${y+6}L${bx+5},${y-6}`).attr('stroke','#000').attr('stroke-width',1.2);
  }));
}
function styleAxis(g) {
  g.select('.domain').remove();
  g.attr('font-size',14).attr('font-family',F);
  g.selectAll('line').attr('stroke','#000').attr('stroke-width',1.2);
  g.selectAll('text').attr('fill','#1a1a1a');
}
function axX(scale, y, dir, ticks, labels, len, pad) {
  const a = (dir==='top'?d3.axisTop:d3.axisBottom)(scale).tickValues(ticks).tickSize(len||5).tickPadding(pad||5)
    .tickFormat(d => labels && labels.includes(d) ? String(d) : '');
  styleAxis(fr.append('g').attr('transform',`translate(0,${y})`).call(a));
}
function axY(scale, x, dir, ticks, label, len) {
  const a = (dir==='left'?d3.axisLeft:d3.axisRight)(scale).tickValues(ticks).tickSize(len||5).tickPadding(6)
    .tickFormat(d => label ? d.toFixed(1) : '');
  styleAxis(fr.append('g').attr('transform',`translate(${x},0)`).call(a));
}
frame(72, 636, 5, 305, [517]);
frame(712, 989, 5, 305, [853]);
frame(72, 636, 308, 502, [517]);
frame(712, 989, 308, 502, [853]);
frame(72, 350, 570, 770); frame(357, 636, 570, 770); frame(712, 989, 570, 770);

[[xOK,tkOK,lbOK],[xN3,tkN3,lbN3],[xN2,tkN2,lbN2],[xM3,tkM3,lbM3],[xM2,tkM2,lbM2]].forEach(s => {
  axX(s[0], 5, 'top', s[1], null);
  axX(s[0], 305, 'bottom', s[1], null);
  axX(s[0], 308, 'top', s[1], null);
  axX(s[0], 502, 'bottom', s[1], s[2], 5, 7);
});
axY(yAL, 72, 'left', tkAL, true); axY(yAL, 72, 'left', tkALm, false, 3);
axY(yAR, 636, 'right', tkAR, true); axY(yAR, 636, 'right', tkARm, false, 3);
axY(yAR, 712, 'left', tkAR, false); axY(yAR, 712, 'left', tkARm, false, 3);
axY(yAR, 989, 'right', tkAR, true); axY(yAR, 989, 'right', tkARm, false, 3);
axY(yBL, 72, 'left', tkBL, true); axY(yBL, 72, 'left', tkBLm, false, 3);
axY(yBR, 636, 'right', tkBR, true); axY(yBR, 636, 'right', tkBRm, false, 3);
axY(yBR, 712, 'left', tkBR, false); axY(yBR, 712, 'left', tkBRm, false, 3);
axY(yBR, 989, 'right', tkBR, true); axY(yBR, 989, 'right', tkBRm, false, 3);
[xC1, xC2, xC3].forEach(xs => {
  axX(xs, 570, 'top', tkCX, null); axX(xs, 570, 'top', tkCXm, null, 3);
  axX(xs, 770, 'bottom', tkCX, tkCX, 5, 5); axX(xs, 770, 'bottom', tkCXm, null, 3);
});
axY(yC, 72, 'left', tkCY, true); axY(yC, 72, 'left', tkCYm, false, 3);
axY(yC, 636, 'right', tkCY, true); axY(yC, 636, 'right', tkCYm, false, 3);
axY(yC, 712, 'left', tkCY, false); axY(yC, 712, 'left', tkCYm, false, 3);
axY(yC, 989, 'right', tkCY, true); axY(yC, 989, 'right', tkCYm, false, 3);

// ---------- Text ----------
const tx = svg.append('g');
function T(x, y, s, o) {
  o = o || {};
  const t = tx.append('text').attr('x',x).attr('y',y).attr('font-size',o.size||14).attr('fill',o.fill||'#1a1a1a')
    .attr('text-anchor',o.anchor||'start');
  if (o.bold) t.attr('font-weight','bold');
  if (o.rot) t.attr('transform',`rotate(${o.rot},${x},${y})`);
  if (Array.isArray(s)) {
    s.forEach(p => { const sp = t.append('tspan').text(p.t);
      if (p.c) sp.attr('fill',p.c);
      if (p.fs) sp.attr('font-size',p.fs);
      if (p.dy) sp.attr('dy',p.dy); });
  } else t.text(s);
  return t;
}
// panel labels
T(79, 33, '(a)', {size:22}); T(79, 335, '(b)', {size:22}); T(80, 600, '(c)', {size:22});
// axis titles
T(31, 158, 'ΔXAS (norm.)', {size:17, anchor:'middle', rot:-90});
T(1046, 158, 'ΔXAS (norm.)', {size:17, anchor:'middle', rot:-90});
T(31, 408, 'long-lived cont. (norm.)', {size:17, anchor:'middle', rot:-90});
T(1046, 405, 'long-lived cont. (norm.)', {size:17, anchor:'middle', rot:-90});
T(31, 663, 'ΔΣ|ΔXAS|', {size:17, anchor:'middle', rot:-90});
T(1046, 620, 'ΔΣ|ΔXAS|', {size:17, anchor:'middle', rot:-90});
T(348, 545, 'photon energy (eV)', {size:18, anchor:'middle'});
T(850, 545, 'photon energy (eV)', {size:18, anchor:'middle'});
T(346, 815, 'number of laser-pulses', {size:18, anchor:'middle'});
T(850, 815, 'number of laser-pulses', {size:18, anchor:'middle'});
// peak labels
[['(1)',148],['(2)',240],['(3)',290]].forEach(p => T(p[1], 21, p[0], {size:12, anchor:'middle', fill:C.txtG}));
[['(6)',408],['(7)',474],['(8)',550],['(9)',592]].forEach(p => T(p[1], 21, p[0], {size:12, anchor:'middle', fill:C.txtP}));
[['(a)',768],['(c)',912]].forEach(p => T(p[1], 21, p[0], {size:12, anchor:'middle', fill:C.txtO}));
// pulse labels
T(340, 58, '16 pulses', {anchor:'middle'}); T(343, 163, '4 pulses', {anchor:'middle'});
T(980, 58, '16 pulses', {anchor:'end'}); T(980, 163, '4 pulses', {anchor:'end'});
T(340, 341, '16 pulses', {anchor:'middle'}); T(343, 408, '4 pulses', {anchor:'middle'});
T(980, 341, '16 pulses', {anchor:'end'}); T(980, 408, '4 pulses', {anchor:'end'});

// legend helpers
function legLine(x0, x1, y, col, sym, fill, stroke, size) {
  tx.append('line').attr('x1',x0).attr('x2',x1).attr('y1',y).attr('y2',y).attr('stroke',col).attr('stroke-width',1.4);
  if (sym) tx.append('path').attr('transform',`translate(${(x0+x1)/2},${y})`).attr('d',d3.symbol(sym,size||20))
    .attr('fill',fill||'none').attr('stroke',stroke||'none').attr('stroke-width',1);
}
// panel a legends
T(80, 295, 'ΔXAS', {});
legLine(125, 158, 290, '#555', SQ, C.gray, null, 22);
T(348, 277, 'ind. long-lived cont.', {anchor:'end'});
T(352, 294, 'ave. long-lived cont.', {anchor:'end'});
T(357, 254, [{t:'O K: ',c:C.txtG},{t:'4 p.',c:C.okT},{t:'  | 16 p.',c:C.txtG}], {bold:true});
T(478, 254, '|', {bold:true, fill:'#444'});
T(488, 254, [{t:'Ni',c:C.txtP},{t:'NiO',c:C.txtP,fs:10,dy:4},{t:' L: ',c:C.txtP,dy:-4},{t:'4 p.',c:'#2a2a88'},{t:'  |  16 p.',c:C.txtP}], {bold:true});
legLine(385, 419, 270, '#cfe8f6', SQ, '#fff', '#b4dcf0', 18);
legLine(433, 468, 270, '#e6f4b8', CI, '#fff', '#d4ec8e', 18);
legLine(540, 574, 270, '#9a9ae8', CI, '#fff', C.lav, 22);
legLine(589, 623, 270, '#f9b8e2', SQ, '#fff', C.pinkL, 18);
legLine(385, 419, 289, C.okT, DI, C.okT, null, 26);
legLine(433, 468, 289, C.okG, DI, C.okG, null, 26);
legLine(540, 574, 289, C.navy, SQ, C.navy, null, 22);
legLine(589, 623, 289, C.pink, SQ, C.pink, null, 22);
[[264,277],[283,296]].forEach(p => tx.append('line').attr('x1',481).attr('x2',481).attr('y1',p[0]).attr('y2',p[1]).attr('stroke','#444').attr('stroke-width',1.6));
T(812, 253, [{t:'Ni',c:C.txtO},{t:'m',c:C.txtO,fs:10,dy:4},{t:' L:',c:C.txtO,dy:-4}], {bold:true});
T(875, 253, '4 p.', {bold:true, fill:C.purple});
T(919, 253, '|', {bold:true, fill:C.txtO});
T(940, 253, '16 p.', {bold:true, fill:C.txtO});
T(730, 273, 'ind. long-lived cont.', {});
T(730, 292, 'ave. long-lived cont.', {});
legLine(872, 905, 268, '#e2a4ec', CI, '#fff', C.violet, 22);
legLine(938, 968, 268, '#fbd0ac', SQ, '#fff', C.orangeL, 18);
legLine(872, 905, 287, C.purple, SQ, C.purple, null, 22);
legLine(938, 968, 287, C.orange, SQ, C.orange, null, 22);
// panel b legends
T(522, 453, 'O K', {bold:true, fill:C.txtG, size:15});
T(565, 453, '|', {bold:true, fill:'#444', size:15});
T(578, 453, [{t:'Ni',c:C.txtP},{t:'NiO',c:C.txtP,fs:10,dy:4},{t:' L',c:C.txtP,dy:-4}], {bold:true, size:15});
T(502, 478, [{t:'4.0 mJ / cm'},{t:'2',fs:10,dy:-6},{t:':',dy:6}], {anchor:'end'});
T(502, 498, [{t:'0.8 mJ / cm'},{t:'2',fs:10,dy:-6},{t:':',dy:6}], {anchor:'end'});
legLine(518, 552, 472, '#99cc22', CI, '#99cc22', null, 10);
legLine(583, 618, 472, '#f048b8', CI, '#f048b8', null, 14);
tx.append('path').attr('transform','translate(535,492)').attr('d',d3.symbol(TR,14)).attr('fill','#7fb6d4').attr('stroke','#24668c');
tx.append('path').attr('transform','translate(600,492)').attr('d',d3.symbol(DI,18)).attr('fill','#d4d4f4').attr('stroke','#3a3aa8');
T(932, 453, [{t:'Ni',c:C.txtO},{t:'m',c:C.txtO,fs:10,dy:4},{t:' L',c:C.txtO,dy:-4}], {bold:true, size:15});
T(930, 478, [{t:'12 mJ / cm'},{t:'2',fs:10,dy:-6},{t:':',dy:6}], {anchor:'end'});
legLine(938, 972, 472, C.orange, CI, C.orange, null, 14);
// panel c legends
T(218, 592, 'O K', {bold:true, fill:C.txtG, size:15});
T(212, 615, [{t:'4.0 mJ / cm'},{t:'2',fs:10,dy:-6},{t:':',dy:6}], {anchor:'end'});
T(212, 636, [{t:'0.8 mJ / cm'},{t:'2',fs:10,dy:-6},{t:':',dy:6}], {anchor:'end'});
cMarker(tx, 232, 610, 'sq', '#3a7db0');
cMarker(tx, 232, 631, 'cx', '#4cb04c');
T(457, 592, [{t:'Ni',c:C.txtP},{t:'NiO',c:C.txtP,fs:10,dy:4},{t:' L',c:C.txtP,dy:-4}], {bold:true, size:15});
T(367, 615, [{t:'4.0 mJ / cm'},{t:'2',fs:10,dy:-6},{t:':',dy:6}], {});
T(367, 636, [{t:'0.8 mJ / cm'},{t:'2',fs:10,dy:-6},{t:':',dy:6}], {});
cMarker(tx, 477, 610, 'co', '#2a3a7a');
cMarker(tx, 477, 631, 'star', '#2a3a8a');
T(810, 592, [{t:'Ni',c:C.txtO},{t:'m',c:C.txtO,fs:10,dy:4},{t:' L',c:C.txtO,dy:-4}], {bold:true, size:15});
T(718, 615, [{t:'12 mJ / cm'},{t:'2',fs:10,dy:-6},{t:':',dy:6}], {});
cMarker(tx, 832, 610, 'bow', '#5a1a7a');
</script>
</body></html>
